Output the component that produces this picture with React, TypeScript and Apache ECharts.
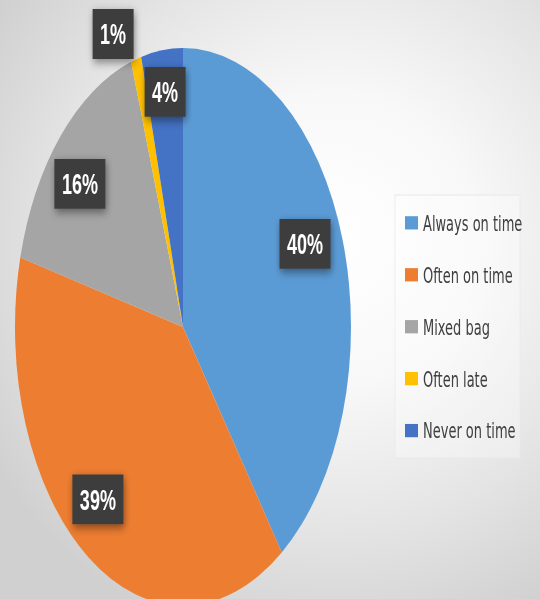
import React, { useEffect, useRef } from "react";
import * as echarts from "echarts";

const categories = ["Always on time", "Often on time", "Mixed bag", "Often late", "Never on time"];
const percentages = [40, 39, 16, 1, 4];
const sliceColors = ["#5B9BD5", "#ED7D31", "#A5A5A5", "#FFC000", "#4472C4"];

// label placement styling: radius factor and small angular nudge per slice
const labelRadiusFactor = [0.785, 0.8, 0.8, 1.13, 0.85];
const labelAngleShift = [-4.3, 5.1, -3.3, -5.4, 0];

const W = 540;
const H = 599;
const STRETCH = 1.659;
const INNER_H = Math.round(H / STRETCH);
const CX = 183;
const CY = 197;
const R = 168;

export default function App() {
  const ref = useRef<HTMLDivElement>(null);

  useEffect(() => {
    if (!ref.current) return;
    const chart = echarts.init(ref.current, undefined, { renderer: "svg" });
    const total = percentages.reduce((a, b) => a + b, 0);

    chart.setOption({
      animation: false,
      backgroundColor: "transparent",
      graphic: [
        {
          type: "rect",
          shape: { x: 395, y: 117.5, width: 125, height: 158.5 },
          style: { fill: "rgba(255,255,255,0.3)", stroke: "rgba(232,232,232,0.7)", lineWidth: 1 },
          z: -1,
        },
      ],
      legend: {
        orient: "vertical",
        left: 405,
        top: 127.3,
        padding: 0,
        itemWidth: 13,
        itemHeight: 8,
        itemGap: 17.3,
        icon: "rect",
        selectedMode: false,
        data: categories,
        textStyle: {
          fontFamily: "'DejaVu Sans', sans-serif",
          fontSize: 13,
          lineHeight: 14,
          color: "#404040",
        },
      },
      series: [
        {
          type: "pie",
          center: [CX, CY],
          radius: R,
          startAngle: 90,
          clockwise: true,
          silent: true,
          data: categories.map((name, i) => ({
            name,
            value: percentages[i],
            itemStyle: { color: sliceColors[i] },
          })),
          itemStyle: { borderWidth: 0 },
          label: {
            show: true,
            position: "inside",
            formatter: "{c}%",
            color: "#ffffff",
            fontFamily: "'Liberation Sans Narrow', 'Liberation Sans', sans-serif",
            fontWeight: "bold",
            fontSize: 18,
            lineHeight: 16,
            backgroundColor: "#3d3d3d",
            padding: [7, 7.5, 7, 7.5],
            shadowColor: "rgba(0,0,0,0.45)",
            shadowBlur: 6,
            shadowOffsetX: 1,
            shadowOffsetY: 2,
          },
          labelLine: { show: false },
          labelLayout: (params: any) => {
            const i = params.dataIndex;
            const before = percentages.slice(0, i).reduce((a, b) => a + b, 0);
            const mid = ((before + percentages[i] / 2) / total) * 360 + labelAngleShift[i];
            const rad = (mid * Math.PI) / 180;
            const k = labelRadiusFactor[i];
            return {
              x: CX + k * R * Math.sin(rad),
              y: CY - k * R * Math.cos(rad),
              align: "center",
              verticalAlign: "middle",
            };
          },
        },
      ],
    });

    return () => chart.dispose();
  }, []);

  return (
    <div
      style={{
        position: "fixed",
        left: 0,
        top: 0,
        width: W,
        height: H,
        overflow: "hidden",
        background:
          "radial-gradient(ellipse 75% 70% at 62% 40%, #ffffff 0%, #f8f8f8 35%, #e4e4e4 70%, #d0d0d0 100%)",
      }}
    >
      <div
        ref={ref}
        style={{
          width: W,
          height: INNER_H,
          transform: `scaleY(${H / INNER_H})`,
          transformOrigin: "0 0",
        }}
      />
    </div>
  );
}
